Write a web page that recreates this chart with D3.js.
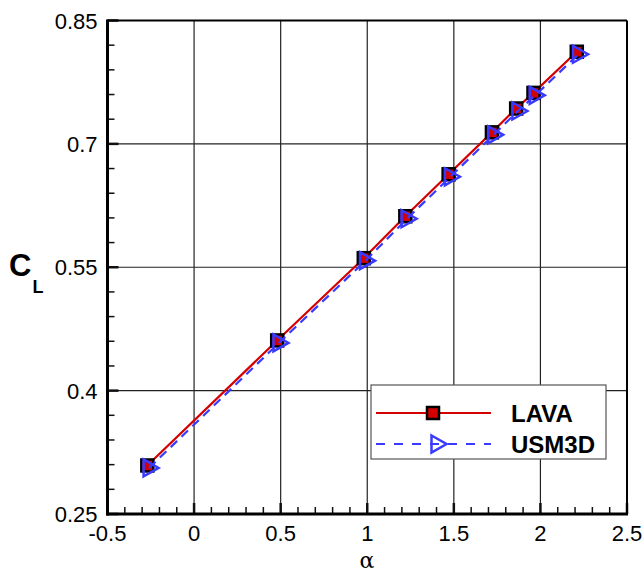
<!DOCTYPE html>
<html>
<head>
<meta charset="utf-8">
<script src="https://cdn.jsdelivr.net/npm/d3@7"></script>
<style>
  body { margin: 0; background: #fff; }
  svg { display: block; font-family: "Liberation Sans", Arial, sans-serif; }
</style>
</head>
<body>
<svg id="chart" width="644" height="573"></svg>
<script>
// values
let lava_alpha = [-0.27, 0.48, 0.98, 1.22, 1.47, 1.72, 1.86, 1.96, 2.21];
let lava_cl = [0.309, 0.461, 0.561, 0.612, 0.663, 0.714, 0.743, 0.762, 0.812];
let usm3d_alpha = [-0.26, 0.49, 0.99, 1.23, 1.48, 1.73, 1.87, 1.97, 2.22];
let usm3d_cl = [0.306, 0.458, 0.558, 0.609, 0.660, 0.711, 0.740, 0.759, 0.809];
let x_ticks = [-0.5, 0, 0.5, 1, 1.5, 2, 2.5];
let x_tick_labels = ['-0.5', '0', '0.5', '1', '1.5', '2', '2.5'];
let y_ticks = [0.25, 0.4, 0.55, 0.7, 0.85];
let y_tick_labels = ['0.25', '0.4', '0.55', '0.7', '0.85'];
let series_names = ['LAVA', 'USM3D'];

let svg = d3.select('#chart');
let left = 107.5, right = 627, top_ = 20.5, bottom = 514;

let x = d3.scaleLinear().domain([-0.5, 2.5]).range([left, right]);
let y = d3.scaleLinear().domain([0.25, 0.85]).range([bottom, top_]);

// grid
let grid = svg.append('g');
grid.selectAll('.gx').data(x_ticks.slice(1, -1)).enter().append('line')
  .attr('x1', d => x(d)).attr('x2', d => x(d)).attr('y1', top_).attr('y2', bottom)
  .attr('stroke', '#222').attr('stroke-width', 1.2);
grid.selectAll('.gy').data(y_ticks.slice(1, -1)).enter().append('line')
  .attr('x1', left).attr('x2', right).attr('y1', d => y(d)).attr('y2', d => y(d))
  .attr('stroke', '#222').attr('stroke-width', 1.2);

// minor ticks
let x_minor = d3.range(-0.5, 2.5001, 0.1).filter(d => Math.abs(d * 2 - Math.round(d * 2)) > 1e-6);
let y_minor = d3.range(0.25, 0.8501, 0.03).filter(d => Math.abs((d - 0.25) / 0.15 - Math.round((d - 0.25) / 0.15)) > 1e-6);

let ticks = svg.append('g');
ticks.selectAll('.mx').data(x_minor).enter().append('line')
  .attr('x1', d => x(d)).attr('x2', d => x(d)).attr('y1', bottom).attr('y2', bottom - 7)
  .attr('stroke', '#111').attr('stroke-width', 1.5);
ticks.selectAll('.Mx').data(x_ticks).enter().append('line')
  .attr('x1', d => x(d)).attr('x2', d => x(d)).attr('y1', bottom).attr('y2', bottom - 11)
  .attr('stroke', '#111').attr('stroke-width', 2.5);
ticks.selectAll('.my').data(y_minor).enter().append('line')
  .attr('x1', left).attr('x2', left + 7).attr('y1', d => y(d)).attr('y2', d => y(d))
  .attr('stroke', '#111').attr('stroke-width', 1.5);
ticks.selectAll('.My').data(y_ticks).enter().append('line')
  .attr('x1', left).attr('x2', left + 11).attr('y1', d => y(d)).attr('y2', d => y(d))
  .attr('stroke', '#111').attr('stroke-width', 2.5);

// frame
svg.append('line').attr('x1', left).attr('x2', right).attr('y1', top_).attr('y2', top_)
  .attr('stroke', '#000').attr('stroke-width', 2);
svg.append('line').attr('x1', right).attr('x2', right).attr('y1', top_).attr('y2', bottom)
  .attr('stroke', '#000').attr('stroke-width', 2);
svg.append('line').attr('x1', left).attr('x2', left).attr('y1', top_ - 1).attr('y2', bottom + 1.5)
  .attr('stroke', '#000').attr('stroke-width', 3);
svg.append('line').attr('x1', left - 1.5).attr('x2', right + 1).attr('y1', bottom).attr('y2', bottom)
  .attr('stroke', '#000').attr('stroke-width', 3);

// tick labels
svg.selectAll('.xl').data(x_ticks).enter().append('text')
  .attr('x', d => x(d)).attr('y', bottom + 27)
  .attr('text-anchor', 'middle').attr('font-size', 22).attr('fill', '#000')
  .text((d, i) => x_tick_labels[i]);
svg.selectAll('.yl').data(y_ticks).enter().append('text')
  .attr('x', left - 10).attr('y', d => y(d) + 8)
  .attr('text-anchor', 'end').attr('font-size', 22).attr('fill', '#000')
  .text((d, i) => y_tick_labels[i]);

// axis titles
let cl = svg.append('text').attr('x', 9).attr('y', 276).attr('font-weight', 'bold').attr('fill', '#000');
cl.append('tspan').attr('font-size', 31).text('C');
cl.append('tspan').attr('font-size', 18).attr('dy', 17).attr('dx', 1).text('L');
svg.append('text').attr('x', 367).attr('y', 568).attr('text-anchor', 'middle')
  .attr('font-family', '"DejaVu Serif", serif').attr('font-size', 22)
  .text('α');

// series
let lava = lava_alpha.map((a, i) => [a, lava_cl[i]]);
let usm3d = usm3d_alpha.map((a, i) => [a, usm3d_cl[i]]);
let line = d3.line().x(d => x(d[0])).y(d => y(d[1]));

let red = '#d40000', blue = '#3a3aff';
let tri = 'M-5.5,-8.5 L9.5,0 L-5.5,8.5 Z';

svg.append('path').datum(lava).attr('d', line)
  .attr('fill', 'none').attr('stroke', red).attr('stroke-width', 2.2);
svg.selectAll('.sq').data(lava).enter().append('rect')
  .attr('x', d => x(d[0]) - 6).attr('y', d => y(d[1]) - 6)
  .attr('width', 12).attr('height', 12)
  .attr('fill', red).attr('stroke', '#000').attr('stroke-width', 2.5);

svg.append('path').datum(usm3d).attr('d', line)
  .attr('fill', 'none').attr('stroke', blue).attr('stroke-width', 2.2)
  .attr('stroke-dasharray', '9,6');
svg.selectAll('.tr').data(usm3d).enter().append('path')
  .attr('d', tri).attr('transform', d => 'translate(' + x(d[0]) + ',' + y(d[1]) + ')')
  .attr('fill', 'none').attr('stroke', blue).attr('stroke-width', 2.5);

// legend
let lg = svg.append('g').attr('transform', 'translate(371,385)');
lg.append('rect').attr('width', 235).attr('height', 74)
  .attr('fill', '#fff').attr('stroke', '#555').attr('stroke-width', 1.2);
lg.append('line').attr('x1', 5).attr('x2', 120).attr('y1', 28).attr('y2', 28)
  .attr('stroke', red).attr('stroke-width', 2.2);
lg.append('rect').attr('x', 56).attr('y', 22).attr('width', 12).attr('height', 12)
  .attr('fill', red).attr('stroke', '#000').attr('stroke-width', 2.5);
lg.append('line').attr('x1', 5).attr('x2', 120).attr('y1', 59).attr('y2', 59)
  .attr('stroke', blue).attr('stroke-width', 2.2).attr('stroke-dasharray', '9,9');
lg.append('path').attr('d', tri).attr('transform', 'translate(66,59)')
  .attr('fill', 'none').attr('stroke', blue).attr('stroke-width', 2.5);
lg.selectAll('.lt').data(series_names).enter().append('text')
  .attr('x', 140).attr('y', (d, i) => 37 + i * 31)
  .attr('font-size', 24).attr('font-weight', 'bold').attr('fill', '#000')
  .text(d => d);
</script>
</body>
</html>
